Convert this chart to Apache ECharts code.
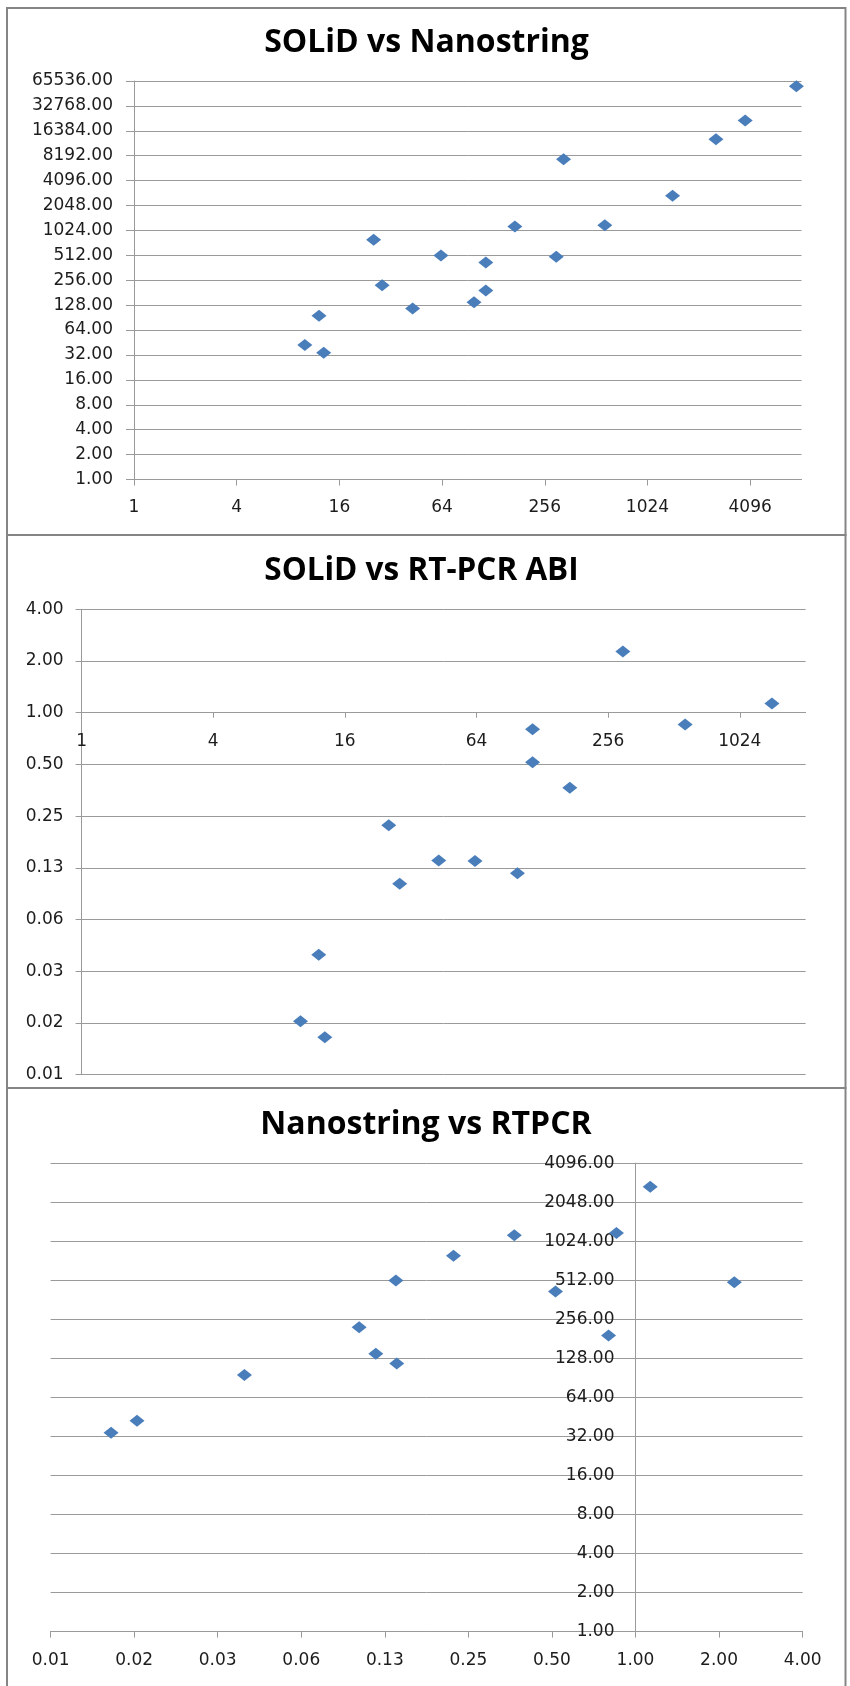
<!DOCTYPE html>
<html>
<head>
<meta charset="utf-8">
<script src="https://cdn.jsdelivr.net/npm/echarts@6/dist/echarts.min.js"></script>
<style>
html,body{margin:0;padding:0;background:#fff;}
#c{width:850px;height:1686px;}
</style>
</head>
<body>
<div id="c"></div>
<script>
// ---- data (one entry per gene) ----
const solid = [299, 1437, 576, 115.5, 115.5, 171, 25.4, 43, 63, 98.5, 28.5, 12.15, 10.03, 12.95, 7643, 3830, 2580, 330];
const nanostring = [494, 2690, 1182, 192, 420, 1140, 790, 116.5, 510, 139, 222, 95, 42.3, 34.1, 56700, 21800, 12950, 7440];
const rtpcr = [2.27, 1.13, 0.854, 0.80, 0.515, 0.366, 0.221, 0.138, 0.137, 0.116, 0.101, 0.039, 0.0160, 0.0129];

const titles = ['SOLiD vs Nanostring', 'SOLiD vs RT-PCR ABI', 'Nanostring vs RTPCR'];
// axis ranges [min, max]
const solidRange1 = [1, 8192];
const nanoRange1 = [1, 65536];
const solidRange2 = [1, 2048];
const rtRange2 = [0.0078125, 4];
const rtRange3 = [0.0078125, 4];
const nanoRange3 = [1, 4096];

const BLUE = '#4A7EBB';
const GRID = '#9a9a9a';
const LABEL = '#1c1c1c';
const FONT = 'DejaVu Sans';

const grids = [
  {left: 134, top: 81, width: 667.5, height: 398.5},
  {left: 81.6, top: 609.3, width: 724, height: 465.3},
  {left: 50.6, top: 1163.1, width: 752, height: 468.5}
];

function l2(v){ return Math.log(v)/Math.log(2); }
// where value 1 falls on the "other" axis (for the crossing axes)
const xCross2 = grids[1].height * (l2(1) - l2(rtRange2[0])) / (l2(rtRange2[1]) - l2(rtRange2[0]));
const yCross3 = grids[2].width * (l2(1) - l2(rtRange3[0])) / (l2(rtRange3[1]) - l2(rtRange3[0]));

const fix2 = v => (+v).toFixed(2);
const intFmt = v => String(Math.round(v));

function labelStyle(extra){
  return Object.assign({color: LABEL, fontFamily: FONT, fontSize: 17}, extra);
}
const axisLineStyle = {show: true, lineStyle: {color: GRID, width: 1}};
const splitLine = {show: true, lineStyle: {color: GRID, width: 1}};

const chart = echarts.init(document.getElementById('c'), null, {renderer: 'canvas'});
const option = {
  backgroundColor: '#fff',
  animation: false,
  title: [
    {text: titles[0], left: 421.5, textAlign: 'center', top: 22, fs: 32},
    {text: titles[1], left: 416.5, textAlign: 'center', top: 550, fs: 31.5},
    {text: titles[2], left: 421, textAlign: 'center', top: 1104, fs: 32}
  ].map(t => { const fs = t.fs; delete t.fs; return Object.assign(t, {textStyle: {fontFamily: 'Open Sans', fontWeight: 'bold', fontSize: fs, color: '#000'}}); }),
  grid: grids.map(g => Object.assign({containLabel: false, show: false}, g)),
  xAxis: [
    {gridIndex: 0, type: 'log', logBase: 4, min: solidRange1[0], max: solidRange1[1], interval: 1,
     axisLine: axisLineStyle, axisTick: {show: true, length: 6, lineStyle: {color: GRID}},
     splitLine: {show: false}, minorTick: {show: false},
     axisLabel: labelStyle({formatter: intFmt, margin: 20, showMaxLabel: false})},
    {gridIndex: 1, type: 'log', logBase: 4, min: solidRange2[0], max: solidRange2[1], interval: 1,
     position: 'bottom', offset: -xCross2,
     axisLine: Object.assign({onZero: false}, axisLineStyle), axisTick: {show: true, length: 5, lineStyle: {color: GRID}},
     splitLine: {show: false},
     axisLabel: labelStyle({formatter: intFmt, margin: 20, showMaxLabel: false})},
    {gridIndex: 2, type: 'log', logBase: 2, min: rtRange3[0], max: rtRange3[1], interval: 1,
     axisLine: axisLineStyle, axisTick: {show: true, length: 6, lineStyle: {color: GRID}},
     splitLine: {show: false},
     axisLabel: labelStyle({formatter: fix2, margin: 20, showMinLabel: true, showMaxLabel: true})}
  ],
  yAxis: [
    {gridIndex: 0, type: 'log', logBase: 2, min: nanoRange1[0], max: nanoRange1[1], interval: 1,
     axisLine: axisLineStyle, axisTick: {show: true, length: 8, lineStyle: {color: GRID}},
     splitLine: splitLine,
     axisLabel: labelStyle({formatter: fix2, margin: 21, showMinLabel: true, showMaxLabel: true})},
    {gridIndex: 1, type: 'log', logBase: 2, min: rtRange2[0], max: rtRange2[1], interval: 1,
     axisLine: axisLineStyle, axisTick: {show: true, length: 6, lineStyle: {color: GRID}},
     splitLine: splitLine,
     axisLabel: labelStyle({formatter: fix2, margin: 18, showMinLabel: true, showMaxLabel: true})},
    {gridIndex: 2, type: 'log', logBase: 2, min: nanoRange3[0], max: nanoRange3[1], interval: 1,
     position: 'left', offset: -yCross3,
     axisLine: Object.assign({onZero: false}, axisLineStyle), axisTick: {show: true, length: 6, lineStyle: {color: GRID}},
     splitLine: splitLine,
     axisLabel: labelStyle({formatter: fix2, margin: 21, showMinLabel: true, showMaxLabel: true})}
  ],
  series: [
    {type: 'scatter', xAxisIndex: 0, yAxisIndex: 0, data: solid.map((x, i) => [x, nanostring[i]])},
    {type: 'scatter', xAxisIndex: 1, yAxisIndex: 1, data: rtpcr.map((y, i) => [solid[i], y])},
    {type: 'scatter', xAxisIndex: 2, yAxisIndex: 2, data: rtpcr.map((x, i) => [x, nanostring[i]])}
  ].map(s => Object.assign(s, {symbol: 'diamond', symbolSize: [15, 12], itemStyle: {color: BLUE, opacity: 1}, emphasis: {disabled: true}})),
  graphic: [
    {type: 'rect', shape: {x: 7, y: 8, width: 838.5, height: 527}, style: {fill: null, stroke: '#858585', lineWidth: 2}, silent: true},
    {type: 'rect', shape: {x: 7, y: 535, width: 838.5, height: 553}, style: {fill: null, stroke: '#858585', lineWidth: 2}, silent: true},
    {type: 'rect', shape: {x: 7, y: 1088, width: 838.5, height: 640}, style: {fill: null, stroke: '#858585', lineWidth: 2}, silent: true}
  ]
};
chart.setOption(option);
</script>
</body>
</html>
